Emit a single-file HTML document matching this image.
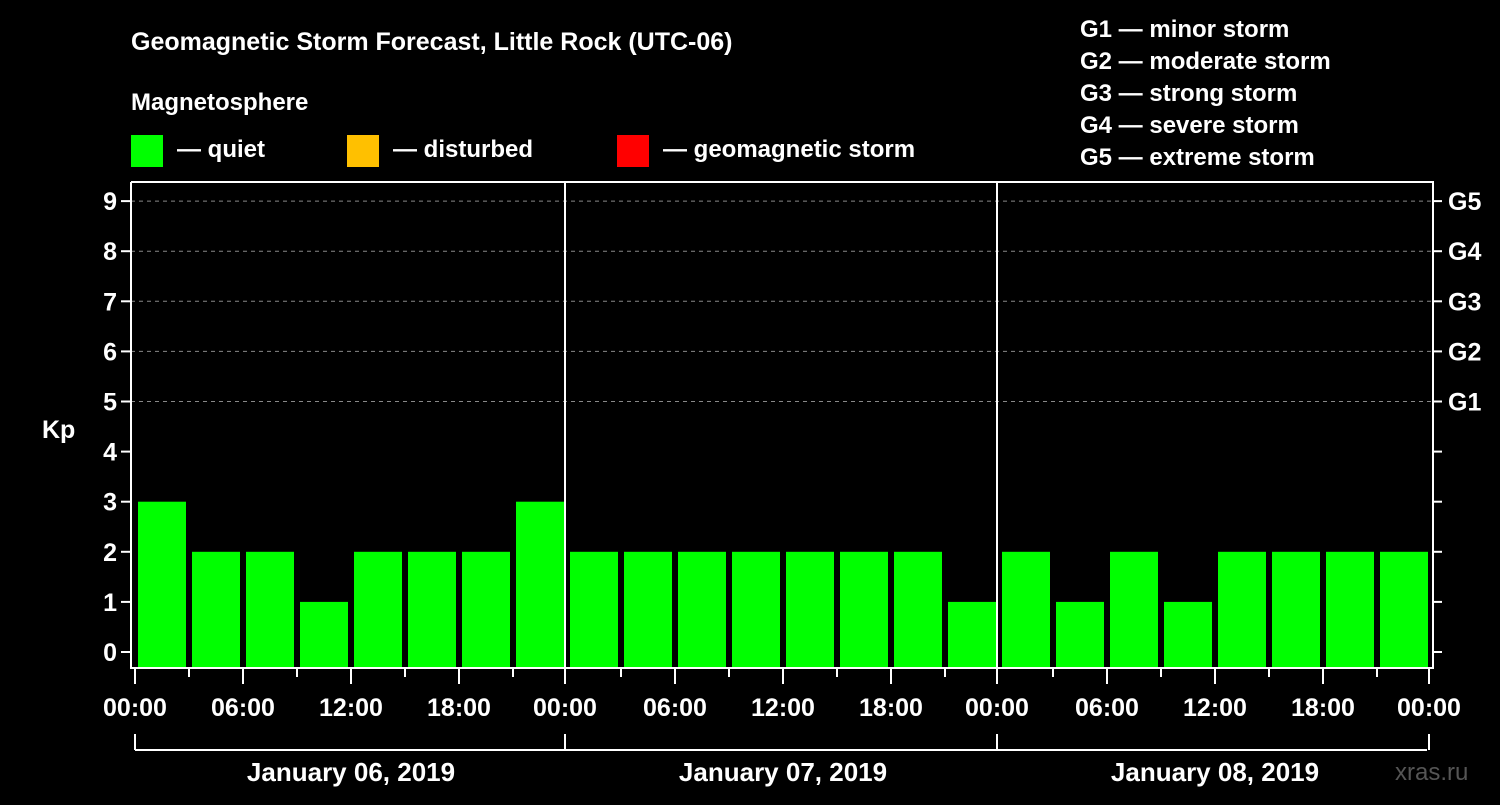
<!DOCTYPE html>
<html><head><meta charset="utf-8"><style>
body{margin:0;background:#000;width:1500px;height:800px;overflow:hidden}
text{font-family:"Liberation Sans",Arial,sans-serif;font-weight:bold;fill:#fff}
</style></head><body>
<svg id="c" width="1500" height="800" xmlns="http://www.w3.org/2000/svg">
<text x="131" y="50" font-size="25">Geomagnetic Storm Forecast, Little Rock (UTC-06)</text>
<text x="131" y="110" font-size="24">Magnetosphere</text>
<g><rect x="131" y="135" width="32" height="32" fill="#00ff00"/><text x="177" y="157" font-size="24">— quiet</text></g>
<g><rect x="347" y="135" width="32" height="32" fill="#ffc000"/><text x="393" y="157" font-size="24">— disturbed</text></g>
<g><rect x="617" y="135" width="32" height="32" fill="#ff0000"/><text x="663" y="157" font-size="24">— geomagnetic storm</text></g>
<g font-size="24">
<text x="1080" y="37">G1 — minor storm</text><text x="1080" y="69">G2 — moderate storm</text><text x="1080" y="101">G3 — strong storm</text><text x="1080" y="133">G4 — severe storm</text><text x="1080" y="165">G5 — extreme storm</text></g>
<text x="42" y="438" font-size="25">Kp</text>
<text x="1395" y="780" font-size="24" fill="#555" style="fill:#555;font-weight:normal">xras.ru</text>
<g id="g"></g>
</svg>
<script>
const values=[3,2,2,1,2,2,2,3, 2,2,2,2,2,2,2,1, 2,1,2,1,2,2,2,2];
const yTicks=[0,1,2,3,4,5,6,7,8,9];
const gLabels=["G1","G2","G3","G4","G5"];
const xLabels=["00:00","06:00","12:00","18:00"];
const dates=["January 06, 2019","January 07, 2019","January 08, 2019"];
const NS="http://www.w3.org/2000/svg",g=document.getElementById('g');
const X0=135,DAY=432,SLOT=54,L=131,R=1433,T=182,B=668;
const y=v=>652-v*50.1;
function mk(t,a){const e=document.createElementNS(NS,t);for(const k in a)e.setAttribute(k,a[k]);g.appendChild(e);return e;}
yTicks.forEach(v=>{
 if(v>0&&v<9||v===9){if(v>=5){const l=mk('line',{x1:L,x2:R,y1:y(v),y2:y(v),stroke:'#888','stroke-dasharray':'4,4'});}}
 mk('line',{x1:L-10,x2:L,y1:y(v),y2:y(v),stroke:'#fff','stroke-width':2});
 mk('line',{x1:R,x2:R+9,y1:y(v),y2:y(v),stroke:'#fff','stroke-width':2});
 const t=mk('text',{x:L-14,y:y(v)+9,'font-size':25,'text-anchor':'end'});t.textContent=v;
 
});
gLabels.forEach((s,i)=>{const t=mk('text',{x:1448,y:y(5+i)+9,'font-size':25});t.textContent=s;
 });
values.forEach((v,i)=>{const r=mk('rect',{x:X0+i*SLOT+3,y:y(v),width:48,height:B-y(v),fill:v>=5?'#ff0000':v>=4?'#ffc000':'#00ff00'});
 });
mk('polyline',{points:`${L},${T} ${R},${T} ${R},${B} ${L},${B} ${L},${T}`,fill:'none',stroke:'#fff','stroke-width':2});
for(let d=1;d<3;d++)mk('line',{x1:X0+d*DAY-2,x2:X0+d*DAY-2,y1:T,y2:B,stroke:'#fff','stroke-width':2});
for(let i=0;i<=24;i++){const x=X0+i*SLOT-(i%8===0&&i>0?2:0);mk('line',{x1:x,x2:x,y1:B,y2:i%2===0?684:677,stroke:'#fff','stroke-width':2});
 if(i%2===0){const t=mk('text',{x:x,y:716,'font-size':25,'text-anchor':'middle'});t.textContent=i===24?"00:00":xLabels[(i/2)%4];
 }}
mk('line',{x1:X0,x2:X0+3*DAY-4,y1:750,y2:750,stroke:'#fff','stroke-width':2});
for(let d=0;d<=3;d++){const x=X0+d*DAY-(d>0?2:0);mk('line',{x1:x,x2:x,y1:734,y2:750,stroke:'#fff','stroke-width':2});}
dates.forEach((s,d)=>{const t=mk('text',{x:X0+d*DAY+DAY/2,y:781,'font-size':26,'text-anchor':'middle'});t.textContent=s;
 });
</script>
</body></html>
